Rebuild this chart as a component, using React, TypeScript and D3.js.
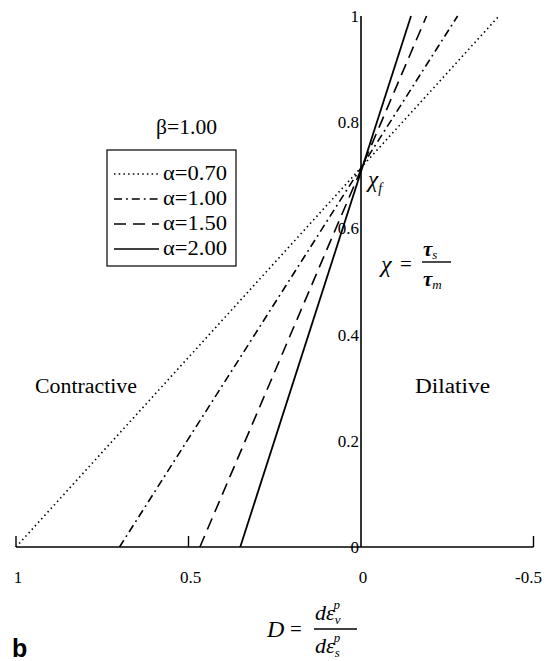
import * as d3 from "d3";

// D at chi = 0 and D at chi = 1 for each alpha
const alphas = ["0.70", "1.00", "1.50", "2.00"];
const dAtZero = [1.0, 0.7, 0.467, 0.35];
const dAtOne = [-0.4, -0.28, -0.19, -0.145];
const dashes = ["1.5 3.2", "8 4 1.8 4", "12 7", "none"];

const xTicks = [1, 0.5, 0, -0.5];
const yTicks = [0, 0.2, 0.4, 0.6, 0.8, 1];

const W = 548;
const H = 661;
const serif = { fontFamily: "Liberation Serif, DejaVu Serif, serif" };

export default function App() {
  const x = d3.scaleLinear().domain([1, -0.5]).range([16, 533.5]);
  const y = d3.scaleLinear().domain([0, 1]).range([547, 16]);
  const line = d3
    .line<[number, number]>()
    .x((d) => x(d[0]))
    .y((d) => y(d[1]));

  return (
    <svg width={W} height={H} style={{ position: "absolute", left: 0, top: 0, background: "#fff" }}>
      <g style={serif}>
        {/* x axis */}
        <line x1={x(1)} x2={x(-0.5)} y1={y(0)} y2={y(0)} stroke="#000" strokeWidth={1.6} />
        {xTicks.map((t) => (
          <g key={t}>
            {t !== 0 && <line x1={x(t)} x2={x(t)} y1={y(0)} y2={y(0) - 11} stroke="#000" strokeWidth={1.4} />}
            <text x={x(t) + (t < 0 ? -5 : 2)} y={583} textAnchor="middle" fontSize={17}>
              {t === -0.5 ? "-0.5" : String(t)}
            </text>
          </g>
        ))}
        {/* y axis */}
        <line x1={x(0)} x2={x(0)} y1={y(0)} y2={y(1)} stroke="#000" strokeWidth={1.6} />
        {yTicks.map((t) => (
          <text key={t} x={x(0) - 2} y={y(t) + 6} textAnchor="end" fontSize={17}>
            {String(t)}
          </text>
        ))}

        {/* lines */}
        {alphas.map((a, i) => (
          <path
            key={a}
            d={line([[dAtZero[i], 0], [dAtOne[i], 1]]) || ""}
            fill="none"
            stroke="#000"
            strokeWidth={i === 3 ? 1.8 : 1.6}
            strokeDasharray={dashes[i]}
          />
        ))}

        {/* legend */}
        <text x={156} y={134} fontSize={20} textLength={61} lengthAdjust="spacingAndGlyphs">β=1.00</text>
        <rect x={107} y={150} width={129} height={116} fill="none" stroke="#000" strokeWidth={1.2} />
        {alphas.map((a, i) => {
          const cy = 174 + i * 25;
          return (
            <g key={a}>
              <line x1={114} x2={159} y1={cy} y2={cy} stroke="#000" strokeWidth={i === 3 ? 1.6 : 1.4} strokeDasharray={dashes[i]} />
              <text x={163} y={cy + 6} fontSize={20} textLength={64} lengthAdjust="spacingAndGlyphs">α={a}</text>
            </g>
          );
        })}

        {/* annotations */}
        <text x={368} y={187} fontStyle="italic" fontSize={23}>
          χ<tspan fontSize={14} dy={6}>f</tspan>
        </text>
        <text x={381} y={272} fontStyle="italic" fontSize={24}>χ</text>
        <text x={400} y={271} fontSize={21}>=</text>
        <line x1={422} x2={451} y1={262} y2={262} stroke="#000" strokeWidth={1.4} />
        <text x={423} y={256} fontStyle="italic" fontWeight="bold" fontSize={21}>
          τ<tspan fontSize={13} dy={3} fontWeight="normal">s</tspan>
        </text>
        <text x={423} y={286} fontStyle="italic" fontWeight="bold" fontSize={21}>
          τ<tspan fontSize={13} dy={3} fontWeight="normal">m</tspan>
        </text>

        <text x={35} y={393} fontSize={20} textLength={102} lengthAdjust="spacingAndGlyphs">Contractive</text>
        <text x={415} y={393} fontSize={20} textLength={75} lengthAdjust="spacingAndGlyphs">Dilative</text>

        {/* x label */}
        <text x={267} y={637} fontStyle="italic" fontSize={24}>D</text>
        <text x={290} y={636} fontSize={21}>=</text>
        <line x1={314} x2={357} y1={629} y2={629} stroke="#000" strokeWidth={1.4} />
        <text x={315} y={620} fontStyle="italic" fontSize={22}>
          dε<tspan fontSize={13} dy={4}>v</tspan><tspan fontSize={13} dx={-7} dy={-15}>p</tspan>
        </text>
        <text x={315} y={653} fontStyle="italic" fontSize={22}>
          dε<tspan fontSize={13} dy={4}>s</tspan><tspan fontSize={13} dx={-6} dy={-15}>p</tspan>
        </text>
      </g>

      <text x={12} y={657} fontFamily="Liberation Sans, Arial, sans-serif" fontWeight="bold" fontSize={25}>b</text>
    </svg>
  );
}
